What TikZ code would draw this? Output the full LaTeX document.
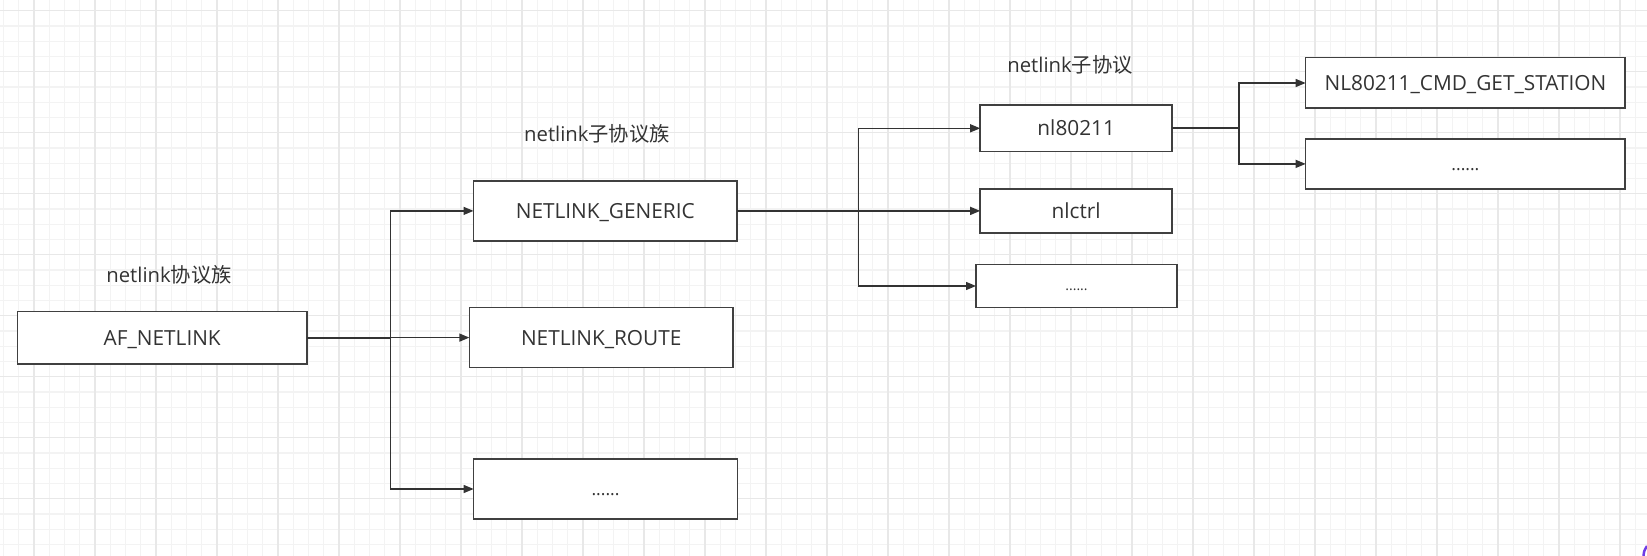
\documentclass[tikz,border=0pt]{standalone}
\usepackage{fontspec}
\setmainfont{Open Sans}
\newfontfamily\cjk{Noto Sans CJK SC}
\usetikzlibrary{arrows.meta}
\definecolor{gridminor}{HTML}{F3F3F3}
\definecolor{gridmajor}{HTML}{E8E8E8}
\definecolor{ink}{HTML}{333333}
\definecolor{boxline}{HTML}{404040}
\definecolor{purplemark}{HTML}{6E3CE6}
\begin{document}
\begin{tikzpicture}[x=1bp,y=-1bp,
  box/.style={draw=boxline, line width=1.6bp, fill=white, inner sep=0pt, outer sep=0pt,
    text=ink, font=\fontsize{20.8bp}{25bp}\selectfont, text height=15bp, text depth=0pt},
  dotsbox/.style={box, font=\fontsize{17.5bp}{21bp}\selectfont, text height=12.6bp},
  smalldots/.style={box, font=\fontsize{14bp}{17bp}\selectfont, text height=10bp},
  lbl/.style={text=ink, font=\fontsize{20.3bp}{24bp}\selectfont, inner sep=0pt},
  conn/.style={draw=ink, line width=1.3bp, -{Triangle[length=10bp,width=8bp]}},
  trunk/.style={draw=ink, line width=2bp},
]
\useasboundingbox (0,0) rectangle (1647,556);
\fill[white] (0,0) rectangle (1647,556);
% grid
\foreach \i in {0,...,107} \draw[gridminor, line width=1.2bp] ({3.5+15.25*\i},0) -- ({3.5+15.25*\i},556);
\foreach \j in {0,...,35} \draw[gridminor, line width=1.2bp] (0,{10.7+15.25*\j}) -- (1647,{10.7+15.25*\j});
\foreach \i in {0,...,26} \draw[gridmajor, line width=1.2bp] ({34+61*\i},0) -- ({34+61*\i},556);
\foreach \j in {0,...,8} \draw[gridmajor, line width=1.2bp] (0,{10.7+61*\j}) -- (1647,{10.7+61*\j});

% labels
\node[lbl] (l1) at (169,275) {netlink{\cjk 协议族}};
\node[lbl] (l2) at (597,134) {netlink{\cjk 子协议族}};
\node[lbl] (l3) at (1070,65) {netlink{\cjk 子协议}};

% boxes
\node[box, minimum width=289.5bp, minimum height=52.2bp] (af) at (162.25,337.6) {AF\_NETLINK};
\node[box, minimum width=263.5bp, minimum height=60.3bp] (gen) at (605.25,210.9) {NETLINK\_GENERIC};
\node[box, minimum width=263.7bp, minimum height=59.9bp] (route) at (601.2,337.6) {NETLINK\_ROUTE};
\node[dotsbox, minimum width=263.7bp, minimum height=60bp] (e1) at (605.5,489) {......};
\node[box, minimum width=192bp, minimum height=46.7bp] (nl) at (1076.2,128.3) {nl80211};
\node[box, minimum width=192bp, minimum height=43.7bp] (ctrl) at (1076.2,210.9) {nlctrl};
\node[smalldots, minimum width=201bp, minimum height=42.7bp] (e2) at (1076.5,286) {......};
\node[box, minimum width=319.5bp, minimum height=50.6bp] (gs) at (1465.4,83) {NL80211\_CMD\_GET\_STATION};
\node[dotsbox, minimum width=319.5bp, minimum height=49.7bp] (e4) at (1465.4,163.9) {......};

% junction columns
\coordinate (j1) at (390.3,0);
\coordinate (j2) at (858.6,0);
\coordinate (j3) at (1239,0);

% connectors
\draw[trunk] (af.east) -- (af.east -| j1);
\draw[trunk] (gen.east) -- (gen.east -| j2);
\draw[trunk] (nl.east) -- (nl.east -| j3);
\draw[conn] (af.east) -- (af.east -| j1) |- (gen.west);
\draw[conn] (af.east) -- (route.west);
\draw[conn] (af.east) -- (af.east -| j1) |- (e1.west);
\draw[conn] (gen.east) -- (gen.east -| j2) |- (nl.west);
\draw[conn] (gen.east) -- (ctrl.west);
\draw[conn] (gen.east) -- (gen.east -| j2) |- (e2.west);
\draw[conn] (nl.east) -- (nl.east -| j3) |- (gs.west);
\draw[conn] (nl.east) -- (nl.east -| j3) |- (e4.west);

% corner mark
\draw[purplemark, line width=2.5bp] (1643.5,556) .. controls (1644,551) .. (1647,546);
\end{tikzpicture}
\end{document}
